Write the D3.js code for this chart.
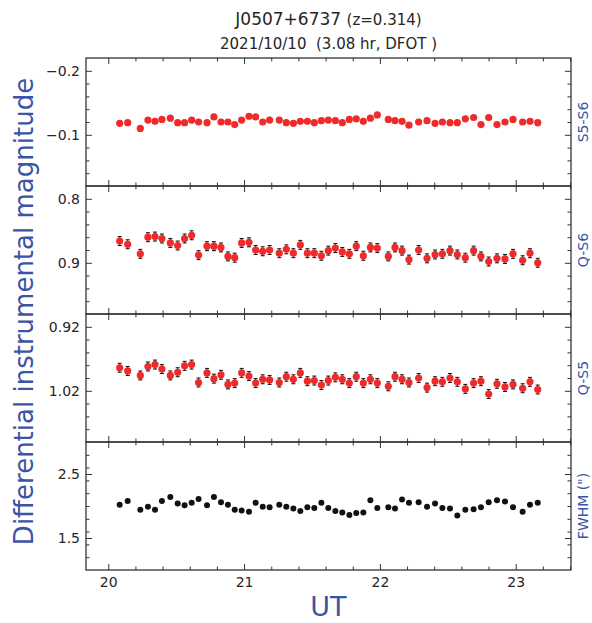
<!DOCTYPE html>
<html>
<head>
<meta charset="utf-8">
<script src="https://cdn.jsdelivr.net/npm/d3@7"></script>
<style>
  html, body { margin: 0; padding: 0; background: #fff; }
  svg { display: block; font-family: "DejaVu Sans", sans-serif; }
  text { white-space: pre; }
</style>
</head>
<body>
<svg id="chart" width="592" height="623"></svg>
<script>
// ---------- data ----------
const ut = [20.084, 20.143, 20.236, 20.292, 20.344, 20.395, 20.457, 20.511, 20.562, 20.614,
            20.665, 20.727, 20.778, 20.830, 20.881, 20.931, 20.982, 21.036, 21.085, 21.137,
            21.188, 21.259, 21.311, 21.363, 21.414, 21.466, 21.517, 21.569, 21.620, 21.672,
            21.723, 21.775, 21.826, 21.878, 21.930, 21.981, 22.062, 22.111, 22.163, 22.214,
            22.285, 22.347, 22.406, 22.460, 22.516, 22.570, 22.629, 22.690, 22.744, 22.801,
            22.862, 22.921, 22.980, 23.051, 23.105, 23.162];

const s5s6 = [-0.118, -0.119, -0.110, -0.123, -0.121, -0.124, -0.126, -0.119, -0.119, -0.123,
              -0.120, -0.119, -0.128, -0.120, -0.120, -0.116, -0.123, -0.129, -0.128, -0.120,
              -0.123, -0.123, -0.119, -0.118, -0.121, -0.121, -0.119, -0.122, -0.123, -0.122,
              -0.119, -0.124, -0.125, -0.121, -0.126, -0.131, -0.124, -0.122, -0.121, -0.115,
              -0.120, -0.122, -0.118, -0.120, -0.119, -0.119, -0.125, -0.127, -0.116, -0.127,
              -0.116, -0.120, -0.124, -0.120, -0.121, -0.119];

const qs6 = [0.866, 0.871, 0.886, 0.860, 0.859, 0.862, 0.869, 0.873, 0.862, 0.857,
             0.888, 0.874, 0.874, 0.876, 0.890, 0.892, 0.869, 0.868, 0.880, 0.882,
             0.880, 0.885, 0.879, 0.885, 0.872, 0.885, 0.885, 0.889, 0.881, 0.877,
             0.883, 0.886, 0.874, 0.889, 0.876, 0.877, 0.890, 0.876, 0.881, 0.895,
             0.880, 0.893, 0.887, 0.886, 0.881, 0.887, 0.892, 0.881, 0.890, 0.898,
             0.893, 0.894, 0.886, 0.896, 0.885, 0.900];

const qs5 = [0.984, 0.989, 0.996, 0.982, 0.979, 0.986, 0.996, 0.991, 0.981, 0.979,
             1.007, 0.992, 1.001, 0.995, 1.010, 1.008, 0.992, 0.997, 1.008, 1.002,
             1.003, 1.007, 0.998, 1.002, 0.992, 1.005, 1.004, 1.011, 1.004, 0.999,
             1.002, 1.008, 0.998, 1.008, 1.002, 1.008, 1.013, 0.998, 1.002, 1.007,
             1.000, 1.015, 1.005, 1.006, 1.000, 1.006, 1.017, 1.008, 1.005, 1.025,
             1.009, 1.014, 1.010, 1.016, 1.006, 1.018];

const fwhm = [2.02, 2.08, 1.94, 1.99, 1.94, 2.08, 2.14, 2.04, 2.01, 2.05,
              2.11, 2.01, 2.14, 2.06, 2.02, 1.94, 1.93, 1.91, 2.05, 1.99,
              1.98, 2.02, 1.99, 1.96, 1.92, 1.98, 1.97, 2.05, 1.97, 1.92,
              1.90, 1.86, 1.89, 1.90, 2.09, 1.97, 1.98, 1.96, 2.10, 2.05,
              2.06, 1.99, 2.04, 1.97, 1.96, 1.85, 1.94, 1.95, 1.98, 2.06,
              2.09, 2.07, 1.98, 1.91, 2.02, 2.05];

// typical 1-sigma error bars per light curve
const errS5S6 = 0.003;
const errQS6 = 0.007;
const errQS5 = 0.007;

const panelLabels = ["S5-S6", "Q-S6", "Q-S5", "FWHM (\")"];
const yDomains = [[-0.22, -0.02], [0.78, 0.98], [0.90, 1.10], [3.0, 1.0]];
const yMajorTicks = [[-0.2, -0.1], [0.8, 0.9], [0.92, 1.02], [2.5, 1.5]];
const yMinorStep = [0.02, 0.02, 0.02, 0.2];
const yTickFormats = [".1f", ".1f", ".2f", ".1f"];
const xMajorTicks = [20, 21, 22, 23];
const xDomain = [19.836, 23.407];

// ---------- layout ----------
const svg = d3.select("#chart");
const left = 86, right = 571, top0 = 58, panelH = 128;
const blue = "#3b54a5", axisCol = "#333333", red = "#f02a2a";

const x = d3.scaleLinear().domain(xDomain).range([left, right]);
const xMinor = d3.range(19.8, 23.5, 0.2).map(v => +v.toFixed(1))
  .filter(v => v >= xDomain[0] && v <= xDomain[1] && !xMajorTicks.includes(v));

const series = [s5s6, qs6, qs5, fwhm];
const errs = [errS5S6, errQS6, errQS5, null];

series.forEach((vals, i) => {
  const pTop = top0 + i * panelH, pBot = pTop + panelH;
  const y = d3.scaleLinear().domain(yDomains[i]).range([pTop, pBot]);
  const g = svg.append("g");

  const [d0, d1] = yDomains[i];
  const lo = Math.min(d0, d1), hi = Math.max(d0, d1);
  const step = yMinorStep[i];
  const minor = [];
  const start = Math.ceil((lo - 1e-9) / step) * step;
  for (let v = start; v <= hi + 1e-9; v += step) {
    const r = +v.toFixed(4);
    if (r > lo + 1e-6 && r < hi - 1e-6 && !yMajorTicks[i].some(m => Math.abs(m - r) < 1e-6)) minor.push(r);
  }

  // y axes (left with labels, right mirrored)
  const fmt = d3.format(yTickFormats[i]);
  g.append("g").attr("transform", `translate(${left},0)`)
    .call(d3.axisLeft(y).tickValues(minor).tickSize(-3.5).tickFormat(""));
  g.append("g").attr("transform", `translate(${left},0)`)
    .call(d3.axisLeft(y).tickValues(yMajorTicks[i]).tickSize(-6).tickPadding(6).tickFormat(fmt));
  g.append("g").attr("transform", `translate(${right},0)`)
    .call(d3.axisRight(y).tickValues(minor).tickSize(-3.5).tickFormat(""));
  g.append("g").attr("transform", `translate(${right},0)`)
    .call(d3.axisRight(y).tickValues(yMajorTicks[i]).tickSize(-6).tickFormat(""));

  // x axes top & bottom
  g.append("g").attr("transform", `translate(0,${pTop})`)
    .call(d3.axisTop(x).tickValues(xMinor).tickSize(-3.5).tickFormat(""));
  g.append("g").attr("transform", `translate(0,${pTop})`)
    .call(d3.axisTop(x).tickValues(xMajorTicks).tickSize(-6).tickFormat(""));
  g.append("g").attr("transform", `translate(0,${pBot})`)
    .call(d3.axisBottom(x).tickValues(xMinor).tickSize(-3.5).tickFormat(""));
  g.append("g").attr("class", i === 3 ? "xlab" : "")
    .attr("transform", `translate(0,${pBot})`)
    .call(d3.axisBottom(x).tickValues(xMajorTicks).tickSize(-6).tickPadding(7)
      .tickFormat(i === 3 ? d3.format("d") : ""));

  g.selectAll(".domain").remove();
  g.selectAll(".tick line").attr("stroke", axisCol).attr("stroke-width", 1);
  g.selectAll(".tick text").attr("fill", "#262626").style("font-size", "14px")
    .style("font-family", "DejaVu Sans, sans-serif");

  // frame
  g.append("rect").attr("x", left).attr("y", pTop).attr("width", right - left).attr("height", panelH)
    .attr("fill", "none").attr("stroke", axisCol).attr("stroke-width", 1.3);

  // data
  const pts = ut.map((t, k) => ({ t, v: vals[k] }));
  if (errs[i] !== null) {
    const e = errs[i];
    const eb = g.append("g").attr("stroke", "#111").attr("stroke-width", 1);
    eb.selectAll("line.bar").data(pts).join("line").attr("class", "bar")
      .attr("x1", d => x(d.t)).attr("x2", d => x(d.t))
      .attr("y1", d => y(d.v - e)).attr("y2", d => y(d.v + e));
    eb.selectAll("line.cap1").data(pts).join("line").attr("class", "cap1")
      .attr("x1", d => x(d.t) - 2).attr("x2", d => x(d.t) + 2)
      .attr("y1", d => y(d.v - e)).attr("y2", d => y(d.v - e));
    eb.selectAll("line.cap2").data(pts).join("line").attr("class", "cap2")
      .attr("x1", d => x(d.t) - 2).attr("x2", d => x(d.t) + 2)
      .attr("y1", d => y(d.v + e)).attr("y2", d => y(d.v + e));
    g.append("g").selectAll("circle").data(pts).join("circle")
      .attr("cx", d => x(d.t)).attr("cy", d => y(d.v)).attr("r", 3.6).attr("fill", red);
  } else {
    g.append("g").selectAll("circle").data(pts).join("circle")
      .attr("cx", d => x(d.t)).attr("cy", d => y(d.v)).attr("r", 3).attr("fill", "#111");
  }

  // right-hand label
  svg.append("text").attr("transform", `translate(588,${(pTop + pBot) / 2}) rotate(-90)`)
    .attr("text-anchor", "middle").attr("fill", blue).style("font-size", "14px")
    .text(panelLabels[i]);
});

// titles
const t1 = svg.append("text").attr("x", 328.5).attr("y", 25).attr("text-anchor", "middle")
  .attr("fill", "#262626").style("font-size", "17px");
t1.append("tspan").text("J0507+6737 ");
t1.append("tspan").style("font-size", "15px").text("(z=0.314)");
svg.append("text").attr("x", 328.5).attr("y", 49).attr("text-anchor", "middle")
  .attr("fill", "#262626").style("font-size", "15px").text("2021/10/10  (3.08 hr, DFOT )");

// axis titles
svg.append("text").attr("transform", "translate(33,311.5) rotate(-90)")
  .attr("text-anchor", "middle").attr("fill", blue).style("font-size", "26px")
  .text("Differential instrumental magnitude");
svg.append("text").attr("x", 328.5).attr("y", 616).attr("text-anchor", "middle")
  .attr("fill", blue).style("font-size", "27px").text("UT");
</script>
</body>
</html>
